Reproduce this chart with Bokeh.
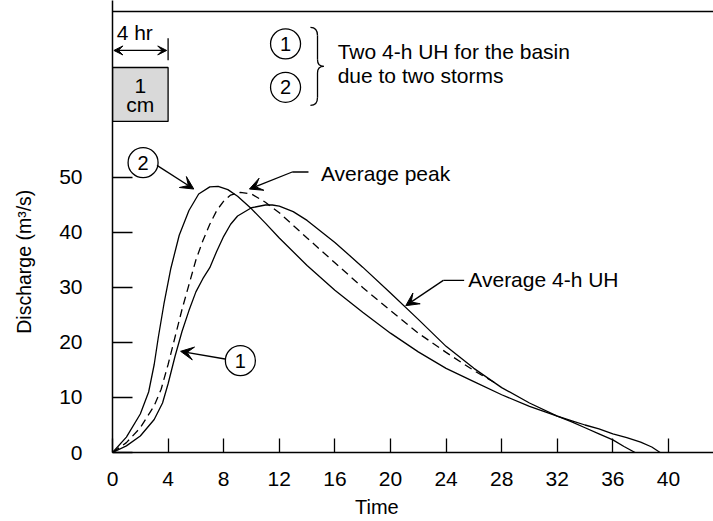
from bokeh.plotting import figure
from bokeh.models import Range1d, FixedTicker, Arrow, VeeHead, Span
from bokeh.embed import file_html
from bokeh.resources import INLINE
from bokeh.core.properties import value

# ---------------- data ----------------
time_ticks = [0, 4, 8, 12, 16, 20, 24, 28, 32, 36, 40]
discharge_ticks = [0, 10, 20, 30, 40, 50]

# UH 1 (later, lower peak)
uh1_t = [0, 1, 2, 3, 3.6, 4.0, 4.5, 5.0, 5.5, 6.0, 6.5, 7.0, 7.5, 8.0, 8.5, 9.0, 10, 11, 11.5,
         12, 13, 14, 16, 18, 20, 22, 24, 26, 28, 30, 32, 33, 34, 35, 36, 36.8, 37.6]
uh1_q = [0, 1.2, 3.0, 6.0, 9.0, 12.5, 17.5, 22.0, 25.8, 29.2, 31.6, 33.6, 36.6, 39.3, 41.5, 43.0, 44.5, 45.0, 45.0,
         44.8, 43.8, 42.2, 38.2, 33.7, 29.0, 24.2, 19.3, 15.3, 11.8, 9.0, 6.6, 5.6, 4.5, 3.4, 2.3, 1.1, 0]

# UH 2 (earlier, higher peak)
uh2_t = [0, 1, 2, 2.6, 3.0, 3.3, 3.7, 4.2, 4.8, 5.5, 6.2, 7.0, 7.6, 8.3, 9.0, 10, 11, 12,
         14, 16, 18, 20, 22, 24, 26, 28, 30, 32, 33, 34, 35, 36, 37, 38, 38.8, 39.4]
uh2_q = [0, 2.8, 7.0, 11.0, 16.0, 21.0, 27.0, 33.5, 39.5, 44.0, 47.0, 48.3, 48.4, 47.8, 46.6, 44.3, 41.7, 39.0,
         34.0, 29.5, 25.5, 21.7, 18.3, 15.3, 12.9, 10.5, 8.4, 6.6, 5.8, 5.0, 4.3, 3.4, 2.7, 1.9, 1.0, 0]

# Average 4-h UH (dashed)
avg_t = [0, 1, 2, 3, 3.5, 4.0, 4.5, 5.0, 5.5, 6.0, 6.5, 7.0, 7.5, 8.0, 8.5, 9.2, 10, 11, 12,
         14, 16, 18, 20, 22, 24, 26, 27.5]
avg_q = [0, 1.8, 4.5, 8.5, 11.5, 16.0, 21.0, 26.0, 30.5, 35.0, 38.5, 41.5, 44.0, 45.7, 46.8, 47.3, 47.0, 45.5, 43.6,
         39.0, 34.5, 30.0, 25.8, 21.7, 18.2, 14.9, 12.7]

rain_duration = 4  # hr, 1 cm block

FONT = "Liberation Sans"
FS = "21px"
NB = "\u00a0"

p = figure(width=713, height=521, x_range=Range1d(0, 43.24), y_range=Range1d(0, 82.18),
           output_backend="svg", toolbar_location=None,
           min_border_left=112, min_border_right=0, min_border_top=0, min_border_bottom=69)
p.grid.visible = False
p.outline_line_color = None

for ax, ticks, tin in ((p.xaxis[0], time_ticks, 14), (p.yaxis[0], discharge_ticks, 20)):
    ax.ticker = FixedTicker(ticks=ticks, minor_ticks=[])
    ax.major_tick_in = tin
    ax.major_tick_out = 0
    ax.minor_tick_line_color = None
    ax.axis_line_width = 1.5
    ax.axis_line_color = "black"
    ax.major_tick_line_width = 1.3
    ax.major_tick_line_color = "black"
    ax.major_label_text_font = FONT
    ax.major_label_text_font_size = FS
    ax.major_label_text_color = "black"
    ax.axis_label_text_font = FONT
    ax.axis_label_text_font_style = "normal"
    ax.axis_label_text_color = "black"
p.xaxis[0].major_label_standoff = 19
p.yaxis[0].major_label_standoff = 30
p.xaxis[0].axis_label = "Time" + NB * 13
p.xaxis[0].axis_label_text_font_size = "20px"
p.xaxis[0].axis_label_standoff = 7
p.yaxis[0].axis_label = "Discharge (m³/s)" + NB * 13
p.yaxis[0].axis_label_text_font_size = "19.5px"
p.yaxis[0].axis_label_standoff = 21

p.add_layout(Span(location=80.18, dimension="width", line_color="black", line_width=1.5))

# curves
p.line(uh2_t, uh2_q, line_color="black", line_width=1.3)
p.line(uh1_t, uh1_q, line_color="black", line_width=1.3)
p.line(avg_t, avg_q, line_color="black", line_width=1.3, line_dash="8 5")

# rainfall block
p.quad(left=[0], right=[rain_duration], bottom=[60.2], top=[70.0],
       fill_color="#d9d9d9", line_color="black", line_width=1.3)
p.text(x=[rain_duration / 2, rain_duration / 2], y=[66.7, 63.3], text=["1", "cm"],
       text_font=value(FONT), text_font_size=FS, text_align="center", text_baseline="middle",
       text_color="black")
p.text(x=[0.3], y=[76.3], text=["4 hr"], text_font=value(FONT), text_font_size=FS,
       text_align="left", text_baseline="middle", text_color="black")
p.add_layout(Arrow(start=VeeHead(size=9, fill_color="black", line_color="black", line_width=1),
                   end=VeeHead(size=9, fill_color="black", line_color="black", line_width=1),
                   x_start=0.1, y_start=73.1, x_end=rain_duration - 0.1, y_end=73.1,
                   line_width=1.3, line_color="black"))
p.segment(x0=[rain_duration], y0=[75.3], x1=[rain_duration], y1=[71.3], line_color="black", line_width=1.3)

# legend circles and brace
circ_x = [12.45, 12.45, 2.2, 9.2]
circ_y = [74.3, 66.4, 52.7, 16.7]
circ_t = ["1", "2", "2", "1"]
p.scatter(circ_x, circ_y, size=30, marker="circle", fill_color="white", line_color="black", line_width=1.3)
p.text(x=circ_x, y=circ_y, text=circ_t, text_font=value(FONT), text_font_size="20px",
       text_align="center", text_baseline="middle", text_color="black")

bx, bc, bl = 14.75, 15.2, 14.24
p.quadratic(x0=[bl, bx, bc, bx], y0=[77.3, 71.4, 70.2, 64.6],
            x1=[bx, bc, bx, bl], y1=[75.8, 70.2, 69.0, 63.1],
            cx=[bx, bx, bx, bx], cy=[77.3, 70.2, 70.2, 63.1],
            line_color="black", line_width=1.3)
p.segment(x0=[bx, bx], y0=[75.8, 69.0], x1=[bx, bx], y1=[71.4, 64.6], line_color="black", line_width=1.3)

p.text(x=[16.2, 16.2], y=[72.9, 68.6], text=["Two 4-h UH for the basin", "due to two storms"],
       text_font=value(FONT), text_font_size=FS, text_align="left", text_baseline="middle",
       text_color="black")

# annotations
def arrow(x0, y0, x1, y1):
    p.add_layout(Arrow(end=VeeHead(size=13, fill_color="black", line_color="black", line_width=1),
                       x_start=x0, y_start=y0, x_end=x1, y_end=y1, line_width=1.3, line_color="black"))

arrow(3.2, 52.2, 5.85, 47.9)       # circle 2 -> UH 2
arrow(8.1, 17.0, 4.9, 18.4)        # circle 1 -> UH 1
p.segment(x0=[12.93, 23.8], y0=[51.0, 31.3], x1=[14.1, 25.3], y1=[51.0, 31.3], line_color="black", line_width=1.3)
arrow(12.93, 51.0, 9.85, 47.9)     # average peak
arrow(23.8, 31.3, 21.1, 26.7)      # average UH

p.text(x=[15.0, 25.6], y=[50.7, 31.4], text=["Average peak", "Average 4-h UH"],
       text_font=value(FONT), text_font_size=FS, text_align="left", text_baseline="middle",
       text_color="black")

open("out.html", "w").write(file_html(p, INLINE))
